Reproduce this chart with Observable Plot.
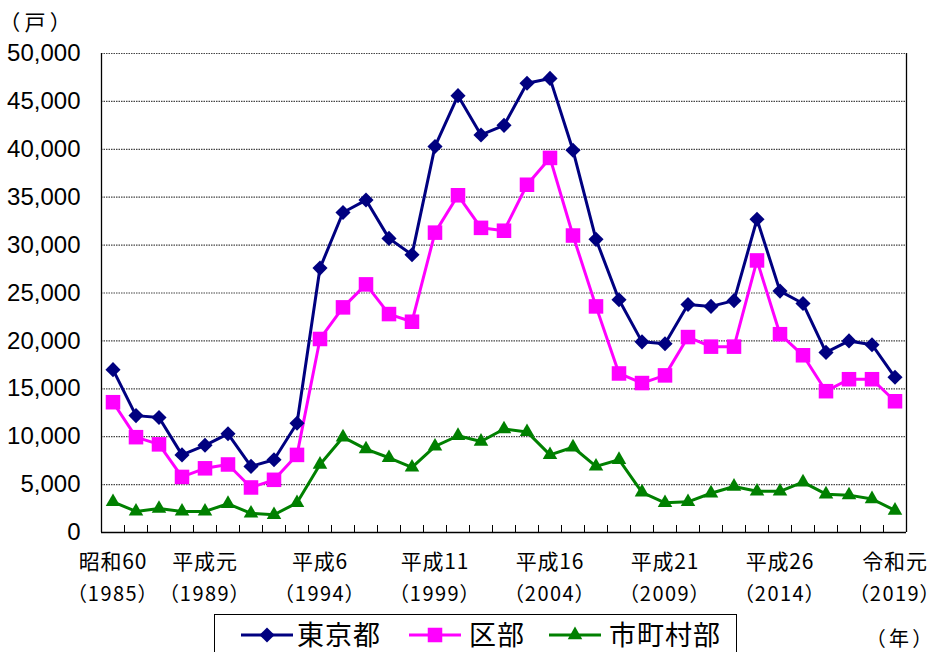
<!DOCTYPE html>
<html><head><meta charset="utf-8">
<script src="https://cdn.jsdelivr.net/npm/d3@7"></script>
<script src="https://cdn.jsdelivr.net/npm/@observablehq/plot@0.6"></script>
<style>
body{margin:0;background:#fff;}
#wrap{position:relative;width:931px;height:652px;overflow:hidden;background:#fff;font-family:"Noto Sans CJK JP",sans-serif;}
#legend{position:absolute;left:214px;top:614px;width:523px;height:50px;border:1.5px solid #000;box-sizing:border-box;background:#fff;}
#unitx{position:absolute;left:875px;top:624px;font-size:20px;line-height:28px;font-feature-settings:"palt";letter-spacing:4px;color:#000;}
#unity{position:absolute;left:9px;top:6px;font-size:21px;line-height:30px;font-feature-settings:"palt";letter-spacing:5px;color:#000;}
</style></head><body><div id="wrap"></div>
<script>
const years = [1985,1986,1987,1988,1989,1990,1991,1992,1993,1994,1995,1996,1997,1998,1999,2000,2001,2002,2003,2004,2005,2006,2007,2008,2009,2010,2011,2012,2013,2014,2015,2016,2017,2018,2019];
const tokyo = [17000,12200,12000,8100,9100,10300,6900,7600,11400,27600,33400,34700,30700,29000,40300,45600,41500,42500,46900,47400,39900,30600,24300,19900,19700,23800,23600,24200,32700,25200,23900,18800,20000,19600,16200];
const ku = [13600,9950,9200,5800,6700,7100,4700,5500,8100,20200,23500,25900,22800,22000,31300,35200,31800,31500,36300,39100,31000,23600,16600,15600,16400,20400,19400,19400,28400,20700,18500,14750,16000,16000,13700];
const shichoson = [3200,2200,2500,2200,2200,3000,2000,1850,3100,7100,9950,8700,7800,6800,9000,10100,9500,10800,10500,8100,8900,6900,7600,4200,3100,3200,4100,4800,4300,4300,5250,4000,3900,3500,2300];
const seriesNames = ["東京都","区部","市町村部"];
const seriesColors = ["#000080","#ff00ff","#008000"];
const yTicks = [0,5000,10000,15000,20000,25000,30000,35000,40000,45000,50000];
const labelYears = [1985,1989,1994,1999,2004,2009,2014,2019];
const eraLabels = ["昭和60","平成元","平成6","平成11","平成16","平成21","平成26","令和元"];
const unitY = "（戸）";
const unitX = "（年）";

const rows = years.map((y,i)=>({year:y, tokyo:tokyo[i], ku:ku[i], shi:shichoson[i]}));
const boundaries = years.slice(0,-1).map(y=>y+0.5);

const plot = Plot.plot({
  width: 931, height: 612,
  marginTop: 53, marginLeft: 101, marginRight: 25, marginBottom: 80,
  x: {domain: [1984.5, 2019.5], axis: null},
  y: {domain: [0, 50000], axis: null},
  style: {background: "transparent", overflow: "visible", fontFamily: "'Noto Sans CJK JP', sans-serif", color: "#000"},
  marks: [
    Plot.ruleY(yTicks.filter(d=>d>0), {stroke:"#444", strokeDasharray:"1.5,1", strokeWidth:1.2}),
    Plot.ruleX(boundaries, {y1: 0, y2: 730, stroke: "#000", strokeWidth: 1}),
    Plot.ruleX([1984.5, 2019.5], {stroke: "#000", strokeWidth: 1.3}),
    Plot.ruleY([0], {stroke:"#000", strokeWidth: 1.5}),
    Plot.axisY(yTicks, {tickSize: 0, tickPadding: 21, fontSize: 24, fontFamily: "'Liberation Sans', Arial, sans-serif", tickFormat: d3.format(",")}),
    Plot.text(labelYears, {x: d=>d, y: 0, text: (d,i)=>eraLabels[i], dy: 30, fontSize: 21}),
    Plot.text(labelYears, {x: d=>d, y: 0, text: d=>"（"+d+"）", dy: 62, fontSize: 20}),
    Plot.line(rows, {x:"year", y:"tokyo", stroke: seriesColors[0], strokeWidth: 3}),
    Plot.line(rows, {x:"year", y:"ku", stroke: seriesColors[1], strokeWidth: 3}),
    Plot.line(rows, {x:"year", y:"shi", stroke: seriesColors[2], strokeWidth: 3}),
    Plot.dot(rows, {x:"year", y:"tokyo", symbol:"diamond2", r: 6.8, fill: seriesColors[0], stroke: "none"}),
    Plot.dot(rows, {x:"year", y:"ku", symbol:"square", r: 8.2, fill: seriesColors[1], stroke: "none"}),
    Plot.dot(rows, {x:"year", y:"shi", symbol:"triangle", r: 5.4, fill: seriesColors[2], stroke: "none"})
  ]
});
const wrap = document.getElementById("wrap");
plot.querySelectorAll("text").forEach(t=>{
  const s = t.textContent;
  if (/（/.test(s)) { t.style.fontFeatureSettings = "'palt'"; t.style.letterSpacing = "1.5px"; }
  else if (eraLabels.includes(s)) { t.style.letterSpacing = "0.8px"; }
});
wrap.appendChild(plot);

const uy = document.createElement("div"); uy.id = "unity"; uy.textContent = unitY; wrap.appendChild(uy);
const ux = document.createElement("div"); ux.id = "unitx"; ux.textContent = unitX; wrap.appendChild(ux);

// legend
const leg = document.createElement("div"); leg.id = "legend"; wrap.appendChild(leg);
const svg = d3.select(leg).append("svg").attr("width", 520).attr("height", 48);
const items = [
  {x0: 26, text: 82, sym: d3.symbolDiamond2, size: Math.PI*6.8*6.8},
  {x0: 194, text: 254, sym: d3.symbolSquare, size: Math.PI*8.2*8.2},
  {x0: 334, text: 394, sym: d3.symbolTriangle, size: Math.PI*5.4*5.4}
];
items.forEach((it,i)=>{
  const cy = 20;
  svg.append("line").attr("x1", it.x0).attr("x2", it.x0+52).attr("y1", cy).attr("y2", cy).attr("stroke", seriesColors[i]).attr("stroke-width", 3);
  svg.append("path").attr("d", d3.symbol(it.sym, it.size)()).attr("transform", `translate(${it.x0+26},${cy})`).attr("fill", seriesColors[i]);
  svg.append("text").attr("x", it.text).attr("y", cy).attr("dy", "0.36em").attr("font-size", 27).attr("letter-spacing", "1px").attr("font-family", "'Noto Sans CJK JP', sans-serif").text(seriesNames[i]);
});
</script></body></html>
